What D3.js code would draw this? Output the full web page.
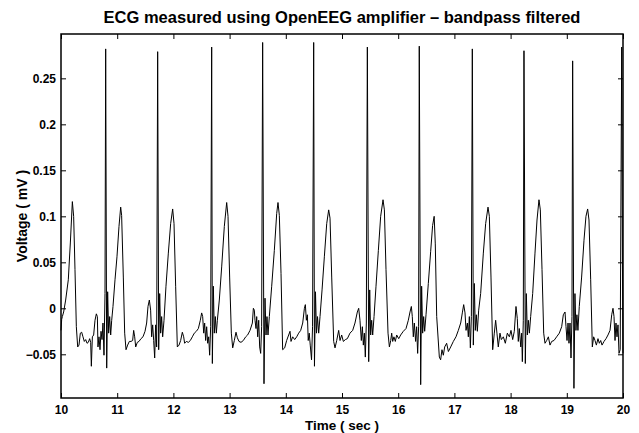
<!DOCTYPE html>
<html>
<head>
<meta charset="UTF-8">
<title>ECG measured using OpenEEG amplifier</title>
<script src="https://d3js.org/d3.v7.min.js"></script>
<style>
  body { margin: 0; background: #fff; }
  text { font-family: "Liberation Sans", Arial, Helvetica, sans-serif; font-weight: bold; fill: #000; }
  .tick line { stroke: #000; stroke-width: 1px; }
  .frame { fill: none; stroke: #000; stroke-width: 1.5px; }
  .ecg-line { fill: none; stroke: #000; stroke-width: 1px; stroke-linejoin: round; }
</style>
</head>
<body>
<div id="chart"></div>
<script>
// values (time in seconds, voltage in mV)
const timeSec = [
  10.000, 10.012, 10.024, 10.047, 10.083, 10.130, 10.166, 10.202, 10.225, 10.249,
  10.273, 10.297, 10.320, 10.344, 10.368, 10.391, 10.415, 10.439, 10.463, 10.486,
  10.510, 10.528, 10.540, 10.558, 10.581, 10.605, 10.629, 10.647, 10.658, 10.676,
  10.694, 10.712, 10.730, 10.747, 10.765, 10.783, 10.795, 10.813, 10.830, 10.848,
  10.866, 10.884, 10.902, 10.925, 10.961, 10.996, 11.032, 11.062, 11.079, 11.109,
  11.133, 11.157, 11.186, 11.216, 11.246, 11.275, 11.293, 11.311, 11.329, 11.358,
  11.388, 11.423, 11.459, 11.495, 11.524, 11.548, 11.572, 11.595, 11.613, 11.631,
  11.649, 11.667, 11.684, 11.702, 11.720, 11.738, 11.756, 11.773, 11.791, 11.809,
  11.833, 11.868, 11.910, 11.951, 11.987, 12.011, 12.040, 12.070, 12.100, 12.129,
  12.159, 12.183, 12.200, 12.230, 12.266, 12.301, 12.337, 12.372, 12.408, 12.444,
  12.479, 12.503, 12.521, 12.539, 12.556, 12.574, 12.592, 12.610, 12.628, 12.645,
  12.663, 12.681, 12.693, 12.711, 12.728, 12.746, 12.764, 12.782, 12.817, 12.859,
  12.906, 12.948, 12.972, 13.001, 13.031, 13.055, 13.084, 13.114, 13.138, 13.167,
  13.203, 13.244, 13.286, 13.321, 13.363, 13.405, 13.423, 13.440, 13.452, 13.470,
  13.482, 13.500, 13.518, 13.535, 13.553, 13.570, 13.588, 13.612, 13.630, 13.648,
  13.665, 13.683, 13.707, 13.749, 13.796, 13.838, 13.861, 13.885, 13.915, 13.944,
  13.980, 14.015, 14.051, 14.075, 14.093, 14.122, 14.158, 14.194, 14.229, 14.265,
  14.301, 14.331, 14.348, 14.366, 14.384, 14.399, 14.417, 14.435, 14.458, 14.476,
  14.496, 14.510, 14.528, 14.546, 14.564, 14.585, 14.609, 14.645, 14.686, 14.728,
  14.763, 14.787, 14.817, 14.852, 14.876, 14.906, 14.941, 14.965, 14.994, 15.024,
  15.060, 15.095, 15.142, 15.190, 15.231, 15.273, 15.297, 15.320, 15.344, 15.362,
  15.380, 15.398, 15.415, 15.433, 15.451, 15.475, 15.493, 15.510, 15.528, 15.546,
  15.570, 15.605, 15.647, 15.688, 15.730, 15.754, 15.783, 15.819, 15.843, 15.867,
  15.884, 15.902, 15.924, 15.949, 15.973, 16.009, 16.044, 16.091, 16.139, 16.180,
  16.210, 16.234, 16.251, 16.269, 16.287, 16.310, 16.328, 16.346, 16.363, 16.375,
  16.400, 16.417, 16.435, 16.453, 16.471, 16.495, 16.536, 16.578, 16.612, 16.640,
  16.660, 16.685, 16.732, 16.755, 16.779, 16.803, 16.827, 16.862, 16.893, 16.934,
  16.981, 17.028, 17.070, 17.112, 17.141, 17.165, 17.189, 17.207, 17.231, 17.248,
  17.266, 17.284, 17.302, 17.319, 17.337, 17.355, 17.372, 17.390, 17.408, 17.432,
  17.467, 17.515, 17.556, 17.598, 17.622, 17.651, 17.681, 17.710, 17.734, 17.757,
  17.781, 17.811, 17.835, 17.871, 17.906, 17.942, 17.978, 18.007, 18.037, 18.066,
  18.096, 18.119, 18.137, 18.155, 18.181, 18.197, 18.209, 18.226, 18.238, 18.262,
  18.280, 18.298, 18.316, 18.334, 18.357, 18.393, 18.434, 18.470, 18.505, 18.529,
  18.559, 18.589, 18.612, 18.642, 18.672, 18.701, 18.731, 18.772, 18.819, 18.867,
  18.909, 18.938, 18.968, 18.986, 19.004, 19.022, 19.039, 19.057, 19.075, 19.092,
  19.104, 19.127, 19.145, 19.163, 19.180, 19.198, 19.222, 19.264, 19.306, 19.341,
  19.371, 19.395, 19.425, 19.454, 19.478, 19.502, 19.526, 19.555, 19.579, 19.603,
  19.627, 19.662, 19.698, 19.733, 19.769, 19.799, 19.822, 19.840, 19.858, 19.875,
  19.893, 19.911, 19.929, 19.950, 19.977, 19.990, 20.000
];
const voltageMv = [
  -0.024, -0.012, -0.009, -0.004, 0.009, 0.031, 0.071, 0.116, 0.100, 0.042,
  -0.020, -0.042, -0.040, -0.027, -0.026, -0.031, -0.036, -0.034, -0.038, -0.037,
  -0.033, -0.037, -0.063, -0.031, -0.029, -0.013, -0.006, -0.009, -0.042, -0.031,
  -0.045, -0.025, -0.034, -0.016, -0.051, 0.016, 0.282, -0.065, 0.018, -0.027,
  -0.009, -0.029, -0.013, 0.002, 0.031, 0.056, 0.089, 0.110, 0.101, 0.034,
  -0.027, -0.045, -0.040, -0.036, -0.036, -0.035, -0.024, -0.031, -0.042, -0.037,
  -0.036, -0.033, -0.031, -0.025, -0.016, 0.002, 0.009, -0.002, -0.031, -0.018,
  -0.035, -0.054, -0.018, -0.042, 0.279, -0.045, 0.016, -0.027, -0.009, -0.031,
  -0.013, 0.024, 0.060, 0.092, 0.108, 0.092, 0.024, -0.042, -0.040, -0.035,
  -0.026, -0.031, -0.038, -0.036, -0.037, -0.035, -0.031, -0.027, -0.025, -0.022,
  -0.013, -0.005, -0.009, -0.027, -0.016, -0.035, -0.020, -0.038, -0.031, -0.051,
  -0.020, 0.284, -0.060, 0.024, -0.027, -0.009, -0.027, -0.013, 0.009, 0.045,
  0.089, 0.115, 0.100, 0.034, -0.027, -0.043, -0.035, -0.026, -0.032, -0.036,
  -0.037, -0.035, -0.031, -0.029, -0.024, -0.016, 0.000, -0.002, -0.013, -0.022,
  -0.009, -0.031, -0.013, -0.042, -0.049, -0.020, 0.289, -0.082, 0.011, -0.029,
  -0.009, -0.029, -0.009, 0.024, 0.063, 0.103, 0.115, 0.101, 0.038, -0.045,
  -0.043, -0.035, -0.029, -0.025, -0.036, -0.031, -0.034, -0.031, -0.027, -0.024,
  -0.016, 0.000, 0.004, -0.013, -0.007, -0.035, -0.027, -0.040, -0.056, -0.020,
  0.289, -0.063, 0.018, -0.027, -0.009, -0.027, -0.009, 0.020, 0.056, 0.092,
  0.107, 0.098, 0.034, -0.036, -0.043, -0.035, -0.024, -0.035, -0.029, -0.036,
  -0.034, -0.033, -0.027, -0.024, -0.016, -0.004, 0.000, -0.013, -0.035, -0.020,
  -0.040, -0.027, -0.053, -0.016, 0.284, -0.058, 0.020, -0.029, -0.013, -0.029,
  -0.009, 0.024, 0.063, 0.100, 0.118, 0.107, 0.042, -0.027, -0.042, -0.035,
  -0.027, -0.036, -0.031, -0.036, -0.029, -0.033, -0.029, -0.025, -0.022, -0.013,
  -0.004, 0.002, -0.009, -0.031, -0.016, -0.036, -0.020, -0.049, -0.020, 0.285,
  -0.083, 0.024, -0.027, -0.009, -0.025, -0.007, 0.027, 0.062, 0.090, 0.100,
  0.070, -0.009, -0.053, -0.056, -0.045, -0.051, -0.042, -0.038, -0.047, -0.042,
  -0.036, -0.031, -0.024, -0.016, -0.005, 0.004, -0.005, -0.024, -0.016, -0.031,
  -0.009, -0.043, -0.009, 0.282, -0.040, 0.027, -0.024, -0.007, -0.025, -0.002,
  0.016, 0.060, 0.092, 0.110, 0.100, 0.034, -0.045, -0.027, -0.013, -0.027,
  -0.042, -0.027, -0.034, -0.031, -0.038, -0.027, -0.031, -0.024, -0.034, -0.025,
  0.002, -0.011, -0.036, -0.022, -0.042, -0.027, -0.058, -0.013, 0.280, -0.060,
  0.016, -0.029, -0.013, -0.027, -0.009, 0.016, 0.060, 0.096, 0.118, 0.107,
  0.042, -0.027, -0.038, -0.035, -0.031, -0.040, -0.036, -0.035, -0.031, -0.027,
  -0.020, -0.007, -0.004, -0.020, -0.035, -0.016, -0.038, -0.016, -0.054, -0.009,
  0.269, -0.087, 0.016, -0.024, -0.007, -0.024, 0.002, 0.034, 0.074, 0.100,
  0.108, 0.096, 0.031, -0.042, -0.031, -0.035, -0.040, -0.033, -0.038, -0.035,
  -0.040, -0.036, -0.033, -0.029, -0.024, -0.007, 0.000, -0.009, -0.035, -0.016,
  -0.031, -0.018, -0.049, -0.045, 0.284, 0.050, -0.049
];

const xTicks = [10, 11, 12, 13, 14, 15, 16, 17, 18, 19, 20];
const yTicks = [-0.05, 0, 0.05, 0.1, 0.15, 0.2, 0.25];
const yTickLabels = ["\u22120.05", "0", "0.05", "0.1", "0.15", "0.2", "0.25"];

const chartTitle = "ECG measured using OpenEEG amplifier \u2013 bandpass filtered";
const xLabel = "Time ( sec )";
const yLabel = "Voltage ( mV )";

const svgWidth = 639, svgHeight = 433;
const margin = { top: 34, right: 16, bottom: 35, left: 61 };
const plotW = svgWidth - margin.left - margin.right;
const plotH = svgHeight - margin.top - margin.bottom;

const svg = d3.select("#chart")
  .append("svg")
  .attr("width", svgWidth)
  .attr("height", svgHeight);

const g = svg.append("g")
  .attr("transform", `translate(${margin.left},${margin.top})`);

const x = d3.scaleLinear().domain([10, 20]).range([0, plotW]);
const y = d3.scaleLinear().domain([-0.0975, 0.2982]).range([plotH, 0]);

const points = timeSec.map((t, i) => [t, voltageMv[i]]);

const line = d3.line()
  .x(d => x(d[0]))
  .y(d => y(d[1]));

g.append("path")
  .datum(points)
  .attr("class", "ecg-line")
  .attr("d", line);

// axes with inward ticks on all four sides
const bottomAxis = g.append("g")
  .attr("transform", `translate(0,${plotH})`)
  .call(d3.axisBottom(x).tickValues(xTicks).tickFormat(d3.format("d"))
    .tickSizeInner(-5).tickSizeOuter(0).tickPadding(7));

const topAxis = g.append("g")
  .call(d3.axisTop(x).tickValues(xTicks).tickFormat("")
    .tickSizeInner(-5).tickSizeOuter(0));

const leftAxis = g.append("g")
  .call(d3.axisLeft(y).tickValues(yTicks).tickFormat((d, i) => yTickLabels[i])
    .tickSizeInner(-5).tickSizeOuter(0).tickPadding(5));

const rightAxis = g.append("g")
  .attr("transform", `translate(${plotW},0)`)
  .call(d3.axisRight(y).tickValues(yTicks).tickFormat("")
    .tickSizeInner(-5).tickSizeOuter(0));

[bottomAxis, topAxis, leftAxis, rightAxis].forEach(a => {
  a.select(".domain").remove();
  a.selectAll("text").style("font-size", "12px").style("font-family", null);
});

g.append("rect")
  .attr("class", "frame")
  .attr("x", 0)
  .attr("y", 0)
  .attr("width", plotW)
  .attr("height", plotH);

svg.append("text")
  .attr("x", margin.left + plotW / 2)
  .attr("y", 23)
  .attr("text-anchor", "middle")
  .style("font-size", "16.5px")
  .text(chartTitle);

svg.append("text")
  .attr("x", margin.left + plotW / 2)
  .attr("y", 429.5)
  .attr("text-anchor", "middle")
  .style("font-size", "13.5px")
  .text(xLabel);

svg.append("text")
  .attr("transform", `translate(27,${margin.top + plotH / 2}) rotate(-90)`)
  .attr("text-anchor", "middle")
  .style("font-size", "14px")
  .text(yLabel);
</script>
</body>
</html>
